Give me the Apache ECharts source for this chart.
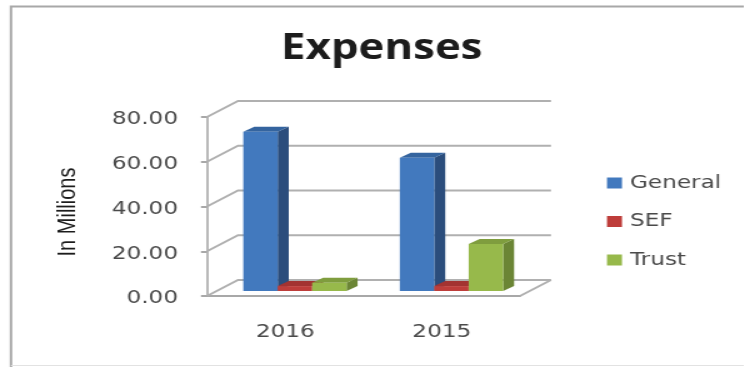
<!DOCTYPE html>
<html>
<head>
<meta charset="utf-8">
<style>
html,body{margin:0;padding:0;background:#fff;overflow:hidden;width:744px;height:367px}
#chart{width:596px;height:367px;transform:scaleX(1.25);transform-origin:0 0}
</style>
<script src="https://cdn.jsdelivr.net/npm/echarts@6/dist/echarts.min.js"></script>
</head>
<body>
<div id="chart"></div>
<script>
const categories = ['2016', '2015'];
const general = [71.2, 59.5];
const sef = [2.2, 2.2];
const trust = [3.7, 21.0];
const yTicks = [0, 20, 40, 60, 80];

// The page stretches the whole chart horizontally; X maps page pixels to chart pixels
const X = px => px / 1.25;

// Oblique projection used for the pseudo-3D box
const WALL_DX = X(31), WALL_DY = -16;
const BAR_DX = X(11), BAR_DY = -5;
const FLOOR_DX = X(9.7), FLOOR_DY = -5;
const BAR_SHARE = 0.22;

const palette = [
  {front: '#4279be', side: '#2b4d7c', top: '#34649f'},
  {front: '#be3d3a', side: '#8a2b29', top: '#a33331'},
  {front: '#97b94b', side: '#6b8535', top: '#7f9d3e'}
];

function wallItem(params, api) {
  const v = api.value(0);
  const first = api.coord([0, v]);
  const last = api.coord([categories.length - 1, v]);
  const half = api.size([1, 0])[0] / 2;
  const x0 = first[0] - half, x1 = last[0] + half, y = first[1];
  const style = {stroke: '#b0b0b0', lineWidth: 2, fill: null};
  const children = [{
    type: 'polyline',
    shape: {points: [[x0, y], [x0 + WALL_DX, y + WALL_DY], [x1 + WALL_DX, y + WALL_DY]]},
    style
  }];
  if (v === 0) {
    children.push({type: 'line', shape: {x1, y1: y, x2: x1 + WALL_DX, y2: y + WALL_DY}, style});
  }
  return {type: 'group', children};
}

function barRenderer(slot) {
  const colors = palette[slot];
  return function (params, api) {
    const idx = api.value(0);
    const base = api.coord([idx, 0]);
    const top = api.coord([idx, api.value(1)]);
    const w = api.size([1, 0])[0] * BAR_SHARE;
    const x0 = base[0] + FLOOR_DX + (slot - 1.5) * w, x1 = x0 + w;
    const yb = base[1] + FLOOR_DY, yt = top[1] + FLOOR_DY;
    const poly = (points, fill) => ({type: 'polygon', shape: {points}, style: {fill, stroke: null}});
    return {
      type: 'group',
      children: [
        poly([[x1, yb], [x1 + BAR_DX, yb + BAR_DY], [x1 + BAR_DX, yt + BAR_DY], [x1, yt]], colors.side),
        poly([[x0, yt], [x1, yt], [x1 + BAR_DX, yt + BAR_DY], [x0 + BAR_DX, yt + BAR_DY]], colors.top),
        poly([[x0, yb], [x1, yb], [x1, yt], [x0, yt]], colors.front)
      ]
    };
  };
}

function barSeries(name, values, slot) {
  return {
    name,
    type: 'custom',
    clip: false,
    z: 3 + slot,
    itemStyle: {color: palette[slot].front},
    encode: {x: 0, y: 1},
    data: values.map((v, i) => [i, v]),
    renderItem: barRenderer(slot)
  };
}

const chart = echarts.init(document.getElementById('chart'), null, {renderer: 'canvas'});
chart.setOption({
  animation: false,
  backgroundColor: '#fff',
  title: {
    text: 'Expenses',
    left: X(375.5), top: 27, textAlign: 'center',
    textStyle: {fontFamily: 'Open Sans', fontWeight: 'bold', fontSize: 35, color: '#1c1c1c'}
  },
  grid: {left: X(207), top: 117, width: X(313), height: 179},
  legend: {
    left: X(607), top: 173.5, orient: 'vertical', padding: 0,
    icon: 'rect', itemWidth: X(15), itemHeight: 11, itemGap: 19.5,
    data: ['General', 'SEF', 'Trust'],
    textStyle: {fontFamily: 'DejaVu Sans', fontSize: 18.5, color: '#4a4a4a', padding: [0, 0, 0, 1.4]}
  },
  xAxis: {
    type: 'category',
    data: categories,
    axisLine: {lineStyle: {color: '#a8a8a8', width: 2}},
    axisTick: {length: X(6), lineStyle: {color: '#a8a8a8', width: 2}},
    axisLabel: {margin: 27, fontFamily: 'DejaVu Sans', fontSize: 18.5, color: '#4a4a4a'}
  },
  yAxis: {
    type: 'value', min: 0, max: 80, interval: 20,
    axisLine: {show: true, lineStyle: {color: '#a8a8a8', width: 1.6}},
    axisTick: {show: true, length: X(6), lineStyle: {color: '#a8a8a8', width: 2}},
    splitLine: {show: false},
    axisLabel: {
      margin: X(29),
      formatter: v => '{tick|' + v.toFixed(2) + '}',
      rich: {
        tick: {fontFamily: 'DejaVu Sans', fontSize: 18.5, color: '#4a4a4a', padding: [5, 0, 0, 0]}
      }
    }
  },
  graphic: [
    {type: 'polyline', silent: true, shape: {points: [[X(11), 367], [X(11), 6.5], [X(744), 6.5]]}, style: {fill: null, stroke: '#a8a8a8', lineWidth: 2}},
    {type: 'line', silent: true, shape: {x1: X(11), y1: 365.5, x2: X(744), y2: 365.5}, style: {stroke: '#e2e2e2', lineWidth: 1}},
    {
      type: 'text', silent: true, x: X(68), y: 212, rotation: Math.PI / 2,
      style: {text: 'In Millions', fontFamily: 'Liberation Sans', fontSize: 20, fill: '#1c1c1c', align: 'center', verticalAlign: 'middle'}
    }
  ],
  series: [
    {
      name: 'walls', type: 'custom', clip: false, z: 1, silent: true,
      encode: {y: 0},
      data: yTicks.map(v => [v]),
      renderItem: wallItem
    },
    barSeries('General', general, 0),
    barSeries('SEF', sef, 1),
    barSeries('Trust', trust, 2)
  ]
});
</script>
</body>
</html>
